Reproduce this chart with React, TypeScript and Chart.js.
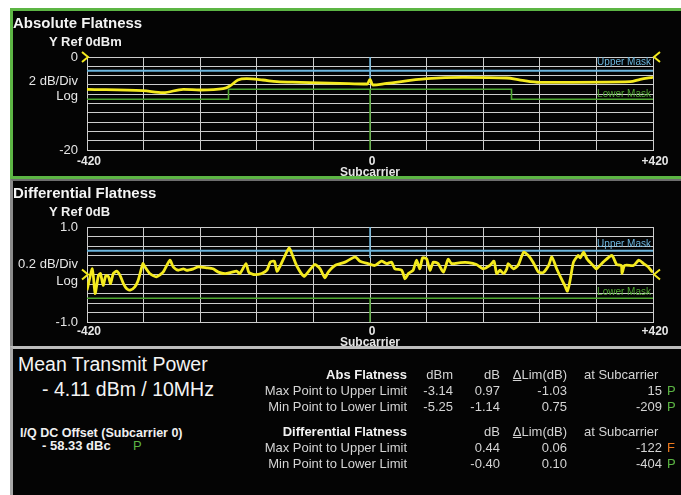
import React, { useEffect, useRef } from 'react';
import { Chart, registerables } from 'chart.js';
Chart.register(...registerables);

const FONT = '"Liberation Sans", Arial, Helvetica, sans-serif';
const YELLOW = '#f4ea1e';
const BLUE = '#6cb6de';
const GREEN = '#4fa832';
const GRID = '#cdcdcd';
const TEXT = '#e6e6e6';

// ---------- Absolute flatness (dBm vs subcarrier) ----------
const absSubcarriers = [-420, -337, -307, -277, -252, -218, -208, -196, -183, -159, -138, -104, -45, -4, 0, 4, 25, 85, 138, 203, 223, 252, 301, 386, 401, 420];
const absValues = [-6.95, -7.25, -7.68, -6.95, -7.1, -6.82, -6.24, -4.95, -4.67, -4.95, -5.31, -5.44, -5.66, -5.81, -4.8, -6.02, -5.66, -4.67, -4.37, -4.52, -4.95, -5.44, -5.44, -5.31, -4.8, -4.37];
const absUpperMaskX = [-420, 420];
const absUpperMaskY = [-2.95, -2.95];
const absLowerMaskX = [-420, -210, -210, 210, 210, 420];
const absLowerMaskY = [-9.1, -9.1, -6.95, -6.95, -9.1, -9.1];
const absDcUpperY = [0, -4.6];
const absDcLowerY = [-6.95, -20];

// ---------- Differential flatness (dB vs subcarrier) ----------
const diffSubcarriers = [-420, -412, -408, -403, -400, -396, -392, -388, -385, -381, -376, -371, -366, -361, -356, -349, -344, -337, -334, -327, -317, -307, -297, -292, -285, -277, -272, -262, -255, -242, -233, -225, -215, -205, -198, -193, -184, -180, -173, -161, -153, -148, -142, -138, -134, -126, -120, -116, -109, -98, -92, -82, -74, -67, -62, -52, -37, -22, -15, -3, 7, 17, 25, 32, 37, 47, 52, 57, 64, 69, 74, 78, 84, 89, 94, 101, 109, 116, 121, 134, 146, 158, 168, 178, 184, 188, 193, 198, 203, 205, 213, 220, 228, 235, 242, 250, 257, 265, 270, 277, 285, 289, 293, 297, 302, 309, 312, 317, 322, 331, 336, 346, 359, 366, 373, 374, 378, 391, 399, 406, 413, 418, 420];
const diffValues = [-0.33, 0.12, -0.40, -0.02, 0.02, -0.23, -0.02, -0.05, -0.19, 0.02, 0.07, -0.02, -0.19, -0.30, -0.33, -0.26, -0.12, 0.23, 0.16, 0.02, -0.05, 0.05, 0.30, 0.16, 0.09, 0.12, 0.09, 0.12, 0.16, 0.14, 0.12, 0.05, 0.02, 0.05, 0.07, 0.02, 0.23, 0.05, 0.00, 0.02, 0.09, 0.26, 0.28, 0.07, 0.16, 0.40, 0.56, 0.44, 0.19, -0.04, 0.05, 0.21, 0.12, -0.07, 0.05, 0.19, 0.26, 0.37, 0.28, 0.23, 0.19, 0.28, 0.23, 0.26, 0.12, 0.09, -0.09, 0.02, 0.09, 0.30, 0.12, 0.35, 0.33, 0.09, 0.26, 0.23, 0.05, 0.32, 0.23, 0.25, 0.25, 0.21, 0.12, 0.19, 0.28, 0.02, 0.09, 0.02, 0.12, 0.23, 0.12, 0.20, 0.47, 0.40, 0.26, 0.05, 0.04, 0.19, 0.37, 0.12, -0.12, -0.23, -0.35, -0.12, 0.26, 0.40, 0.35, 0.47, 0.33, 0.19, 0.12, 0.26, 0.40, 0.21, 0.19, 0.02, 0.19, 0.19, 0.30, 0.23, 0.16, 0.07, 0.05];
const diffUpperMaskX = [-420, 420];
const diffUpperMaskY = [0.5, 0.5];
const diffLowerMaskX = [-420, 420];
const diffLowerMaskY = [-0.5, -0.5];
const diffDcUpperY = [1.0, 0.35];
const diffDcLowerY = [-0.5, -1.0];

// ---------- Axis labels ----------
const xTickValues = [-420, 0, 420];
const xTickLabels = ['-420', '0', '+420'];
const absYTickValues = [0, -20];
const absYTickLabels = ['0', '-20'];
const diffYTickValues = [1, -1];
const diffYTickLabels = ['1.0', '-1.0'];

// ---------- Result table ----------
const absHeader = ['Abs Flatness', 'dBm', 'dB', 'ΔLim(dB)', 'at Subcarrier'];
const absRowLabels = ['Max Point to Upper Limit', 'Min Point to Lower Limit'];
const absDbm = ['-3.14', '-5.25'];
const absDb = ['0.97', '-1.14'];
const absDlim = ['-1.03', '0.75'];
const absAt = ['15', '-209'];
const absVerdict = ['P', 'P'];
const diffHeader = ['Differential Flatness', '', 'dB', 'ΔLim(dB)', 'at Subcarrier'];
const diffRowLabels = ['Max Point to Upper Limit', 'Min Point to Lower Limit'];
const diffDb = ['0.44', '-0.40'];
const diffDlim = ['0.06', '0.10'];
const diffAt = ['-122', '-404'];
const diffVerdict = ['F', 'P'];

const pts = (xs: number[], ys: number[]) => xs.map((x, i) => ({ x, y: ys[i] }));
const near = (a: number, b: number) => Math.abs(a - b) < 1e-6;

function decorPlugin(refVal: number, upperVal: number, lowerVal: number, upOff: number, lowOff: number) {
  return {
    id: 'decor',
    afterDatasetsDraw(chart: any) {
      const { ctx, chartArea, scales } = chart;
      const { left, right } = chartArea;
      const y = scales.y;
      const ry = y.getPixelForValue(refVal);
      ctx.save();
      ctx.strokeStyle = YELLOW;
      ctx.lineWidth = 2;
      ctx.beginPath();
      ctx.moveTo(left - 5, ry - 5);
      ctx.lineTo(left + 1, ry);
      ctx.lineTo(left - 5, ry + 5);
      ctx.stroke();
      ctx.beginPath();
      ctx.moveTo(right + 7, ry - 5);
      ctx.lineTo(right + 1, ry);
      ctx.lineTo(right + 7, ry + 5);
      ctx.stroke();
      ctx.font = '10px ' + FONT;
      ctx.textAlign = 'right';
      ctx.textBaseline = 'middle';
      ctx.fillStyle = BLUE;
      ctx.fillText('Upper Mask', right - 2, y.getPixelForValue(upperVal) - upOff);
      ctx.fillStyle = GREEN;
      ctx.fillText('Lower Mask', right - 2, y.getPixelForValue(lowerVal) - lowOff);
      ctx.restore();
    },
  };
}

function buildConfig(p: any) {
  return {
    type: 'line',
    data: {
      datasets: [
        { data: p.trace, borderColor: YELLOW, borderWidth: 2.8, pointRadius: 0, tension: p.tension, cubicInterpolationMode: p.mono ? 'monotone' : 'default' },
        { data: p.upper, borderColor: BLUE, borderWidth: 2, pointRadius: 0 },
        { data: p.dcUpper, borderColor: BLUE, borderWidth: 1.5, pointRadius: 0 },
        { data: p.lower, borderColor: GREEN, borderWidth: 1.6, pointRadius: 0 },
        { data: p.dcLower, borderColor: GREEN, borderWidth: 1.5, pointRadius: 0 },
      ],
    },
    options: {
      responsive: false,
      animation: false,
      events: [],
      layout: { padding: { top: p.padTop, right: 28, left: 0, bottom: 0 } },
      plugins: { legend: { display: false }, tooltip: { enabled: false } },
      scales: {
        x: {
          type: 'linear',
          min: -420,
          max: 420,
          afterFit: (s: any) => { s.height = p.xAxisH; },
          grid: { color: GRID, lineWidth: 1, drawTicks: false },
          border: { color: GRID },
          ticks: {
            stepSize: 84,
            autoSkip: false,
            maxRotation: 0,
            padding: p.xPad,
            labelOffset: 2,
            color: TEXT,
            font: { family: FONT, size: 12, weight: 'bold' },
            callback: (v: number) => {
              const i = xTickValues.findIndex((t) => near(t, v));
              return i >= 0 ? xTickLabels[i] : '';
            },
          },
        },
        y: {
          min: p.yMin,
          max: p.yMax,
          afterFit: (s: any) => { s.width = 74; },
          grid: { color: GRID, lineWidth: 1, drawTicks: false },
          border: { color: GRID },
          ticks: {
            stepSize: p.yStep,
            autoSkip: false,
            padding: 9,
            color: TEXT,
            font: { family: FONT, size: 13 },
            callback: (v: number) => {
              const i = p.yTickValues.findIndex((t: number) => near(t, v));
              return i >= 0 ? p.yTickLabels[i] : '';
            },
          },
        },
      },
    },
    plugins: [decorPlugin(p.refVal, p.upperVal, p.lowerVal, p.upOff, p.lowOff)],
  };
}

function ChartCanvas({ left, top, width, height, make }: any) {
  const ref = useRef<HTMLCanvasElement>(null);
  useEffect(() => {
    const chart = new Chart(ref.current as HTMLCanvasElement, make() as any);
    return () => chart.destroy();
  }, []);
  return <canvas ref={ref} width={width} height={height} style={{ position: 'absolute', left, top, width, height, display: 'block' }} />;
}

function T({ x, y, s = 13, b = false, c = TEXT, a = 'left', w = 200, children }: any) {
  const lh = Math.round(s * 1.25);
  let left = x;
  if (a === 'right') left = x - w;
  else if (a === 'center') left = x - w / 2;
  return (
    <div style={{ position: 'absolute', left, top: y - lh / 2, width: w, height: lh, lineHeight: lh + 'px', fontSize: s, fontWeight: b ? 700 : 400, color: c, textAlign: a, whiteSpace: 'nowrap', fontFamily: FONT }}>
      {children}
    </div>
  );
}

const dlim = (t: string) => (t.startsWith('Δ') ? <><span style={{ textDecoration: 'underline' }}>Δ</span>{t.slice(1)}</> : t);

export default function App() {
  const absMake = () =>
    buildConfig({
      trace: pts(absSubcarriers, absValues),
      upper: pts(absUpperMaskX, absUpperMaskY),
      lower: pts(absLowerMaskX, absLowerMaskY),
      dcUpper: pts([0, 0], absDcUpperY),
      dcLower: pts([0, 0], absDcLowerY),
      tension: 0.4, mono: true,
      yMin: -20, yMax: 0, yStep: 2,
      yTickValues: absYTickValues, yTickLabels: absYTickLabels,
      padTop: 46, xAxisH: 26, xPad: 4,
      refVal: 0, upperVal: absUpperMaskY[0], lowerVal: absLowerMaskY[absLowerMaskY.length - 1], upOff: 8, lowOff: 5.5,
    });
  const diffMake = () =>
    buildConfig({
      trace: pts(diffSubcarriers, diffValues),
      upper: pts(diffUpperMaskX, diffUpperMaskY),
      lower: pts(diffLowerMaskX, diffLowerMaskY),
      dcUpper: pts([0, 0], diffDcUpperY),
      dcLower: pts([0, 0], diffDcLowerY),
      tension: 0.2, mono: false,
      yMin: -1, yMax: 1, yStep: 0.2,
      yTickValues: diffYTickValues, yTickLabels: diffYTickLabels,
      padTop: 45, xAxisH: 25, xPad: 2,
      refVal: 0, upperVal: 0.5, lowerVal: -0.5, upOff: 7, lowOff: 6,
    });

  const cols = [407, 453, 500, 567];
  const TB = '#d4d4d4';
  const HEAD = '#f2f2f2';
  const table = (header: string[], labels: string[], c1: string[], c2: string[], c3: string[], at: string[], verdict: string[], y0: number) => (
    <>
      <T x={cols[0]} y={y0} a="right" b c={HEAD} w={200}>{header[0]}</T>
      {header[1] && <T x={cols[1]} y={y0} a="right" c={TB} w={60}>{header[1]}</T>}
      <T x={cols[2]} y={y0} a="right" c={TB} w={60}>{header[2]}</T>
      <T x={cols[3]} y={y0} a="right" c={TB} w={70}>{dlim(header[3])}</T>
      <T x={584} y={y0} c={TB} w={90}>{header[4]}</T>
      {labels.map((l, i) => {
        const y = y0 + 16 * (i + 1);
        return (
          <React.Fragment key={l}>
            <T x={cols[0]} y={y} a="right" c={TB} w={200}>{l}</T>
            {c1[i] && <T x={cols[1]} y={y} a="right" c={TB} w={60}>{c1[i]}</T>}
            <T x={cols[2]} y={y} a="right" c={TB} w={60}>{c2[i]}</T>
            <T x={cols[3]} y={y} a="right" c={TB} w={60}>{c3[i]}</T>
            <T x={662} y={y} a="right" c={TB} w={60}>{at[i]}</T>
            <T x={667} y={y} c={verdict[i] === 'F' ? '#ee7a1e' : '#5cb544'} w={12}>{verdict[i]}</T>
          </React.Fragment>
        );
      })}
    </>
  );

  return (
    <div>
      {/* frames */}
      <div style={{ position: 'absolute', left: 10, top: 8, width: 671, height: 487, background: '#040404' }} />
      <div style={{ position: 'absolute', left: 10, top: 8, width: 671, height: 171, boxSizing: 'border-box', borderTop: '3px solid #5cb544', borderLeft: '3px solid #5cb544', borderBottom: '3px solid #5cb544' }} />
      <div style={{ position: 'absolute', left: 10, top: 179, width: 671, height: 168, boxSizing: 'border-box', borderTop: '2px solid #6e6e6e', borderLeft: '3px solid #8a8a8a' }} />
      <div style={{ position: 'absolute', left: 10, top: 346, width: 671, height: 149, boxSizing: 'border-box', borderTop: '3px solid #bdbdbd', borderLeft: '3px solid #a8a8a8' }} />

      {/* absolute flatness */}
      <ChartCanvas left={13} top={11} width={668} height={165} make={absMake} />
      <T x={13} y={22} s={15} b c="#f4f4f4" w={220}>Absolute Flatness</T>
      <T x={49} y={41.5} s={13} b c="#f0f0f0" w={120}>Y Ref 0dBm</T>
      <T x={78} y={81} a="right" w={70}>2 dB/Div</T>
      <T x={78} y={95.5} a="right" w={70}>Log</T>
      <T x={370} y={172} a="center" s={12} b w={100}>Subcarrier</T>

      {/* differential flatness */}
      <ChartCanvas left={13} top={182} width={668} height={165} make={diffMake} />
      <T x={13} y={192} s={15} b c="#f4f4f4" w={220}>Differential Flatness</T>
      <T x={49} y={212} s={13} b c="#f0f0f0" w={120}>Y Ref 0dB</T>
      <T x={78} y={264} a="right" w={75}>0.2 dB/Div</T>
      <T x={78} y={281} a="right" w={70}>Log</T>
      <T x={370} y={342} a="center" s={12} b w={100}>Subcarrier</T>

      {/* results */}
      <T x={18} y={364} s={19.5} c="#f4f4f4" w={240}>Mean Transmit Power</T>
      <T x={42} y={388.5} s={19.5} c="#f4f4f4" w={220}>- 4.11 dBm / 10MHz</T>
      <T x={20} y={432.5} s={12.5} b c="#f0f0f0" w={200}>I/Q DC Offset (Subcarrier 0)</T>
      <T x={42} y={445.5} s={13} b c="#f0f0f0" w={90}>- 58.33 dBc</T>
      <T x={133} y={445.5} s={13} c="#5cb544" w={14}>P</T>
      {table(absHeader, absRowLabels, absDbm, absDb, absDlim, absAt, absVerdict, 375)}
      {table(diffHeader, diffRowLabels, ['', ''], diffDb, diffDlim, diffAt, diffVerdict, 432)}
    </div>
  );
}
